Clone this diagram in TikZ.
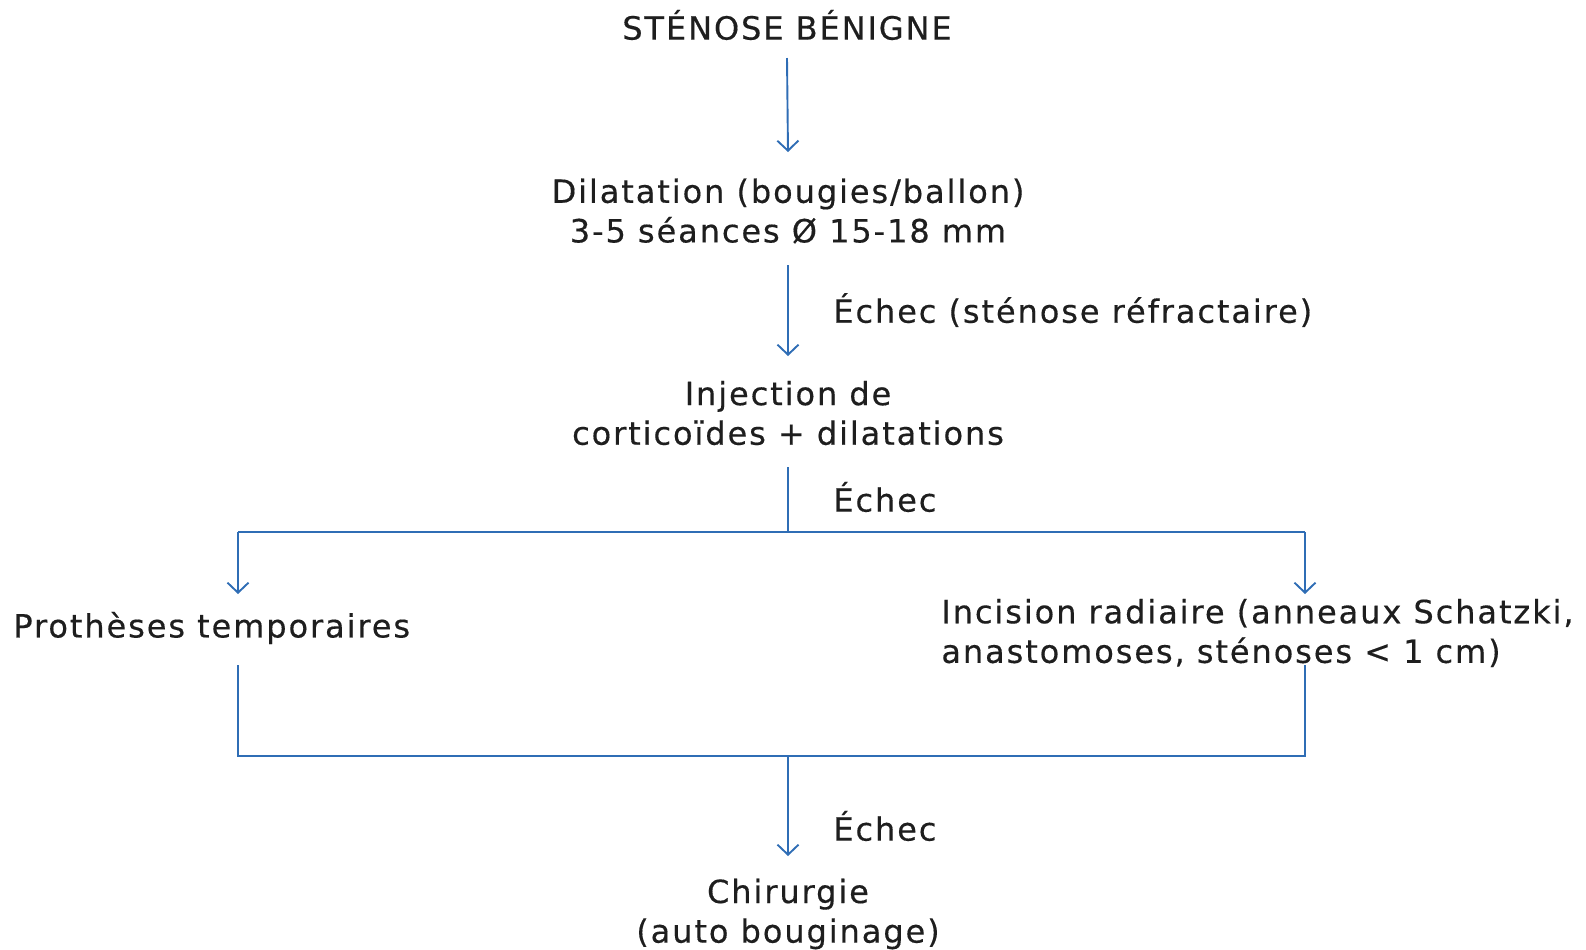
\documentclass[tikz,border=0pt]{standalone}
\usepackage{fontspec}
\setmainfont{DejaVu Sans}[LetterSpace=6,FakeBold=0.4]
\usetikzlibrary{arrows.meta,calc}
\definecolor{lineblue}{HTML}{2F6DB5}
\definecolor{txt}{HTML}{1E1E1E}
\begin{document}
\begin{tikzpicture}[x=0.5pt,y=0.5pt,
  lbl/.style={inner sep=0pt,text=txt,font=\fontsize{16}{19.8}\selectfont},
  conn/.style={draw=lineblue,line width=0.95pt},
  arr/.style={conn,-{Straight Barb[length=5pt,width=10.5pt,line width=0.95pt]}}]
\useasboundingbox (0,0) rectangle (1586,-949);
\node[lbl] (s) at (787,-25) {STÉNOSE BÉNIGNE};
\node[lbl,align=center] (d) at (788,-211) {Dilatation (bougies/ballon)\\3-5 séances Ø 15-18 mm};
\node[lbl,align=center] (i) at (788,-413) {Injection de\\corticoïdes + dilatations};
\node[lbl,anchor=west] (p) at (13,-628) {Prothèses temporaires};
\node[lbl,anchor=west,align=left] (r) at (941,-633) {Incision radiaire (anneaux Schatzki,\\anastomoses, sténoses < 1 cm)};
\node[lbl,align=center] (c) at (788,-914) {Chirurgie\\(auto bouginage)};
\node[lbl,anchor=west] (e1) at (833,-310) {Échec (sténose réfractaire)};
\node[lbl,anchor=west] (e2) at (833,-497) {Échec};
\node[lbl,anchor=west] (e3) at (833,-826) {Échec};
\coordinate (top) at (788,-532);
\coordinate (tl) at (238,-532);
\coordinate (tr) at (1305,-532);
\coordinate (bot) at (788,-756);
\coordinate (bl) at (238,-756);
\coordinate (br) at (1305,-756);
\draw[arr] ($(s.center)+(0,-33)$) -- ($(d.center)+(0,59)$);
\draw[arr] ($(d.center)+(0,-54)$) -- ($(i.center)+(0,57)$);
\draw[conn] ($(i.center)+(0,-54)$) -- (top);
\draw[conn] (tl) -- (tr);
\draw[arr] (tl) -- ($(p.west)+(225,34)$);
\draw[arr] (tr) -- ($(r.west)+(364,39)$);
\draw[conn] ($(p.west)+(225,-37)$) -- (bl) -- (br) -- ($(r.west)+(364,-32)$);
\draw[arr] (bot) -- ($(c.center)+(0,58)$);
\end{tikzpicture}
\end{document}
